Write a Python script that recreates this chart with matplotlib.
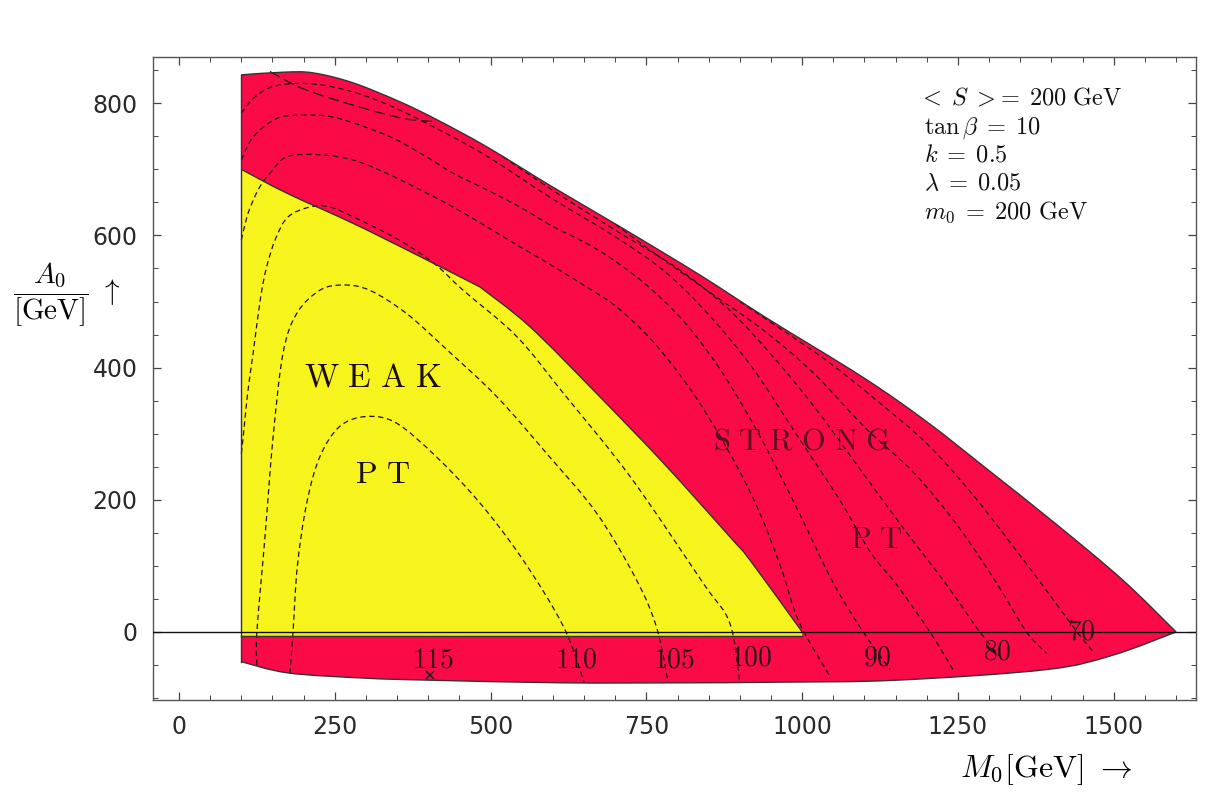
import matplotlib
matplotlib.use("Agg")
import matplotlib.pyplot as plt
from matplotlib.path import Path
import matplotlib.patches as patches

plt.rcParams['mathtext.fontset'] = 'cm'

W, H = 1211, 796

# region boundaries, (M0, A0) in GeV
outer_top_m = [100, 167, 215, 279, 355, 414, 494, 600, 708, 836, 943, 1098, 1200, 1300, 1409, 1515, 1600]
outer_top_a = [843, 847, 846, 831, 802, 775, 734, 673, 613, 540, 475, 385, 318, 244, 162, 78, 0]
outer_low_m = [1600, 1499, 1392, 1152, 964, 800, 616, 403, 300, 175, 100]
outer_low_a = [0, -35, -57, -73, -76, -77, -77, -73, -70, -62, -45]

weak_left_m = [100, 173, 280, 387, 483]
weak_left_a = [700, 664, 618, 568, 522]
weak_right_m = [483, 563, 670, 777, 884, 916, 1000]
weak_right_a = [522, 462, 361, 256, 144, 109, 0]

# higgs mass contours (dashed)
c110_m = [178, 183, 190, 205, 226, 258, 301, 349, 413, 483, 552, 617, 650]
c110_a = [-63, 0, 100, 195, 265, 311, 326, 316, 265, 195, 109, 8, -76]
c105_m = [125, 125, 138, 151, 167, 189, 226, 264, 306, 365, 430, 510, 590, 670, 734, 767, 785]
c105_a = [-50, 0, 144, 295, 422, 482, 517, 525, 517, 482, 427, 356, 270, 180, 79, 5, -77]
c100_m = [100, 103, 110, 119, 130, 140, 155, 175, 210, 242, 280, 344, 387, 419, 456, 542, 617, 724, 841, 884, 900]
c100_a = [270, 295, 360, 422, 500, 550, 595, 628, 643, 643, 628, 598, 573, 550, 517, 447, 361, 235, 74, 13, -77]
c95_m = [100, 109, 119, 130, 146, 173, 226, 280, 333, 387, 440, 494, 547, 601, 654, 702, 760, 820, 875, 925,
         965, 995, 1045]
c95_a = [593, 628, 653, 674, 694, 719, 722, 714, 694, 669, 643, 613, 583, 553, 522, 492, 440, 368, 285, 195,
         100, 15, -68]
c90_m = [100, 119, 157, 199, 242, 290, 344, 397, 440, 494, 547, 601, 654, 697, 750, 810, 870, 930, 990, 1050,
         1098, 1141]
c90_a = [714, 749, 777, 782, 780, 767, 747, 719, 694, 669, 643, 613, 588, 563, 525, 470, 395, 300, 190, 74,
         0, -57]
c85_m = [100, 120, 150, 200, 260, 330, 413, 494, 600, 700, 780, 850, 920, 990, 1060, 1110, 1152, 1205, 1242]
c85_a = [785, 808, 825, 830, 822, 800, 762, 720, 655, 598, 545, 480, 400, 300, 200, 120, 71, 0, -57]
c80_m = [520, 600, 700, 800, 880, 950, 1020, 1090, 1160, 1232, 1285, 1317]
c80_a = [719, 668, 608, 550, 490, 420, 340, 250, 160, 71, 0, -37]
c75_m = [700, 760, 850, 940, 1020, 1100, 1180, 1250, 1312, 1360, 1392]
c75_a = [617, 575, 515, 455, 390, 310, 240, 160, 74, 0, -32]
c70_m = [900, 960, 1040, 1120, 1200, 1270, 1330, 1387, 1441, 1467]
c70_a = [500, 462, 410, 350, 285, 212, 140, 69, 0, -30]
chord_m = [146, 199, 280, 360, 414]
chord_a = [848, 822, 797, 777, 772]

contour_labels = ["115", "110", "105", "100", "90", "80", "70"]
label_px = [(433, 668), (576, 668), (674, 668), (751, 665), (877, 665), (997, 660), (1081, 640)]
max_m, max_a = 402, -65

params = [r"$<\;S\;>\!=\;200\ \mathrm{GeV}$", r"$\tan\beta\;=\;10$", r"$k\;=\;0.5$",
          r"$\lambda\;=\;0.05$", r"$m_0\;=\;200\ \mathrm{GeV}$"]

red = "#fb0a48"
yellow = "#f6f41c"


def fx(px):
    return px / W


def fy(py):
    return 1 - py / H


def smooth(m, a):
    # catmull-rom through the read points, as bezier segments
    pts = list(zip(m, a))
    n = len(pts)
    verts = [pts[0]]
    codes = [Path.MOVETO]
    for i in range(n - 1):
        p0 = pts[max(i - 1, 0)]
        p1 = pts[i]
        p2 = pts[i + 1]
        p3 = pts[min(i + 2, n - 1)]
        c1 = (p1[0] + (p2[0] - p0[0]) / 6, p1[1] + (p2[1] - p0[1]) / 6)
        c2 = (p2[0] - (p3[0] - p1[0]) / 6, p2[1] - (p3[1] - p1[1]) / 6)
        verts += [c1, c2, p2]
        codes += [Path.CURVE4] * 3
    return verts, codes


def region(*pieces):
    verts, codes = [], []
    for m, a in pieces:
        v, c = smooth(m, a)
        if codes:
            c = [Path.LINETO] + c[1:]
        verts += v
        codes += c
    verts.append(verts[0])
    codes.append(Path.CLOSEPOLY)
    return Path(verts, codes)


fig = plt.figure(figsize=(W / 100, H / 100), dpi=100)
ax = fig.add_axes([fx(152.7), fy(700), fx(1196) - fx(152.7), fy(57) - fy(700)])

ax.add_patch(patches.PathPatch(region((outer_top_m, outer_top_a), (outer_low_m, outer_low_a)),
                               facecolor=red, lw=0, zorder=1))
ax.add_patch(patches.PathPatch(region(([100, 100], [-6, 700]), (weak_left_m, weak_left_a),
                                      (weak_right_m, weak_right_a), ([1000, 1000], [0, -6])),
                               facecolor=yellow, lw=0, zorder=2))

for m, a in [(c110_m, c110_a), (c105_m, c105_a), (c100_m, c100_a), (c95_m, c95_a),
             (c90_m, c90_a), (c85_m, c85_a), (c80_m, c80_a), (c75_m, c75_a), (c70_m, c70_a)]:
    v, c = smooth(m, a)
    ax.add_patch(patches.PathPatch(Path(v, c), fill=False, edgecolor="#1c1414", lw=0.9,
                                   linestyle=(0, (4.3, 2.9)), zorder=3))
v, c = smooth(chord_m, chord_a)
ax.add_patch(patches.PathPatch(Path(v, c), fill=False, edgecolor="#2a1418", lw=1.0,
                               linestyle=(0, (8, 3.5)), zorder=3))

for m, a in [(outer_top_m, outer_top_a), (outer_low_m, outer_low_a),
             (weak_left_m, weak_left_a), (weak_right_m, weak_right_a)]:
    v, c = smooth(m, a)
    ax.add_patch(patches.PathPatch(Path(v, c), fill=False, edgecolor="#3a3030", lw=1.0, zorder=4))
ax.plot([100, 1000], [-6, -6], color="#3a3030", lw=1.0, zorder=4)
ax.plot([100, 100], [outer_low_a[-1], outer_top_a[0]], color="#3a3030", lw=1.0, zorder=4)
ax.axhline(0, color="#111", lw=1.0, zorder=5)

ax.plot(max_m, max_a, marker="x", ms=6, mew=1.2, color="#222", zorder=6)

ax.set_xlim(-42.2, 1632)
ax.set_ylim(-103, 870)
ax.set_xticks([0, 250, 500, 750, 1000, 1250, 1500])
ax.set_yticks([0, 200, 400, 600, 800])
ax.set_xticks(range(0, 1650, 50), minor=True)
ax.set_yticks(range(-100, 870, 50), minor=True)
ax.tick_params(which="both", direction="in", top=True, right=True, color="#444",
               labelsize=17, labelcolor="#2a2a2a", pad=11)
ax.tick_params(which="major", length=6, width=0.9)
ax.tick_params(which="minor", length=3.5, width=0.7)
for s in ax.spines.values():
    s.set_color("#555")
    s.set_linewidth(1.0)

# region labels
dark = "#1a0d0d"
fig.text(fx(372.5), fy(386), r"$\mathrm{W\ E\ A\ K}$", fontsize=24, ha="center", va="baseline", color=dark)
fig.text(fx(382.5), fy(483), r"$\mathrm{P\ T}$", fontsize=23, ha="center", va="baseline", color=dark)
fig.text(fx(801.7), fy(450), r"$\mathrm{S\ T\ R\ O\ N\ G}$", fontsize=22, ha="center", va="baseline",
         color="#5a1020")
fig.text(fx(876.5), fy(548), r"$\mathrm{P\ T}$", fontsize=22, ha="center", va="baseline", color="#5a1020")

for lab, (px, py) in zip(contour_labels, label_px):
    fig.text(fx(px), fy(py), r"$\mathrm{%s}$" % lab, fontsize=20, ha="center", va="baseline",
             color="#2a1418")

ys = [105, 133.5, 162, 190.5, 219]
for i, (t, py) in enumerate(zip(params, ys)):
    fig.text(fx(918 if i == 0 else 924), fy(py), t, fontsize=17.5, ha="left", va="baseline", color="#111")

fig.text(fx(67), fy(295), r"$\dfrac{A_0}{[\mathrm{GeV}]}\ \uparrow$", fontsize=21, ha="center", va="center")
fig.text(fx(1131.7), fy(776.7), r"$M_0[\mathrm{GeV}]\ \rightarrow$", fontsize=23, ha="right", va="baseline")

fig.savefig("out.png", dpi=100)
